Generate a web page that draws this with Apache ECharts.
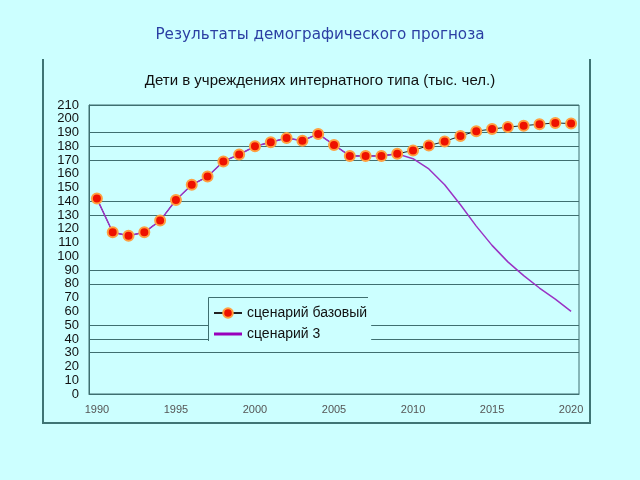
<!DOCTYPE html>
<html>
<head>
<meta charset="utf-8">
<script src="https://cdn.jsdelivr.net/npm/echarts@6/dist/echarts.min.js"></script>
<style>
html,body{margin:0;padding:0;background:#ccffff;}
#chart{width:640px;height:480px;}
</style>
</head>
<body>
<div id="chart"></div>
<script>
const years = ['1990','1991','1992','1993','1994','1995','1996','1997','1998','1999','2000','2001','2002','2003','2004','2005','2006','2007','2008','2009','2010','2011','2012','2013','2014','2015','2016','2017','2018','2019','2020'];
const baseScenario = [142,117.5,115,117.5,126,141,152,158,169,174,180,183,186,184,189,181,173,173,173,174.5,177,180.5,183.5,187.5,191,192.5,194,195,196,197,196.5];
const scenario3 = [142,117.5,115,117.5,126,141,152,158,169,174,180,183,186,184,189,181,173,173,173,174.5,171,163.5,152,137.5,122,108,96,86,77,69,60];
const gridValues = [210,190,180,170,140,130,90,80,50,40,30];
const pageTitle = 'Результаты демографического прогноза';
const chartTitle = 'Дети в учреждениях интернатного типа (тыс. чел.)';
const seriesNames = ['сценарий базовый','сценарий 3'];

const chart = echarts.init(document.getElementById('chart'));
const axisColor = '#3f6f70';
chart.setOption({
  backgroundColor: '#ccffff',
  animation: false,
  title: [
    {text: pageTitle, left: 'center', top: 23,
     textStyle: {color: '#2b3fa3', fontFamily: 'DejaVu Sans', fontSize: 15.2, fontWeight: 'normal'}},
    {text: chartTitle, left: 'center', top: 68,
     textStyle: {color: '#111', fontFamily: 'Liberation Sans', fontSize: 15, fontWeight: 'normal'}}
  ],
  graphic: [{
    type: 'polyline', silent: true,
    shape: {points: [[43,59],[43,423],[590,423],[590,59]]},
    style: {stroke: '#3f7474', lineWidth: 2, fill: null}
  }, {
    type: 'polyline', silent: true, z: 10,
    shape: {points: [[208.5,341],[208.5,297.5],[368,297.5]]},
    style: {stroke: '#3f6f70', lineWidth: 1, fill: null}
  }],
  grid: {left: 89, top: 105, right: 61, bottom: 86, show: true, borderColor: axisColor, borderWidth: 1, backgroundColor: 'transparent'},
  legend: {
    orient: 'vertical', left: 208, top: 299,
    padding: [7, 4, 8, 5], itemGap: 7,
    itemWidth: 28, itemHeight: 12,
    backgroundColor: '#ccffff',
    textStyle: {fontFamily: 'Liberation Sans', fontSize: 14, color: '#111'},
    data: [
      {name: seriesNames[0]},
      {name: seriesNames[1], icon: 'path://M0,0L28,0L28,3L0,3Z', itemStyle: {color: '#9900bb'}}
    ]
  },
  xAxis: {
    type: 'category', data: years, boundaryGap: true,
    axisLine: {lineStyle: {color: axisColor, width: 1}},
    axisTick: {interval: 4, length: 4, lineStyle: {color: axisColor}},
    axisLabel: {interval: 4, margin: 10, color: '#555', fontFamily: 'Liberation Sans', fontSize: 11},
    splitLine: {show: false}
  },
  yAxis: {
    type: 'value', min: 0, max: 210, interval: 10,
    axisLine: {show: true, lineStyle: {color: axisColor, width: 1}},
    axisTick: {show: false},
    axisLabel: {margin: 10, color: '#111', fontFamily: 'Liberation Sans', fontSize: 13, lineHeight: 12},
    splitLine: {show: false}
  },
  series: [
    {
      name: seriesNames[0], type: 'line', data: baseScenario,
      symbol: 'circle', symbolSize: 10, showSymbol: true,
      lineStyle: {color: '#222', width: 1},
      itemStyle: {color: '#ee1100', borderColor: '#ffa040', borderWidth: 2},
      markLine: {
        silent: true, symbol: 'none', z: 1,
        label: {show: false},
        lineStyle: {color: axisColor, width: 1, type: 'solid'},
        data: gridValues.map(v => ({yAxis: v}))
      }
    },
    {
      name: seriesNames[1], type: 'line', data: scenario3,
      showSymbol: false, symbol: 'none',
      lineStyle: {color: '#9a33c4', width: 1.5},
      itemStyle: {color: '#9900bb'}
    }
  ]
});
</script>
</body>
</html>
